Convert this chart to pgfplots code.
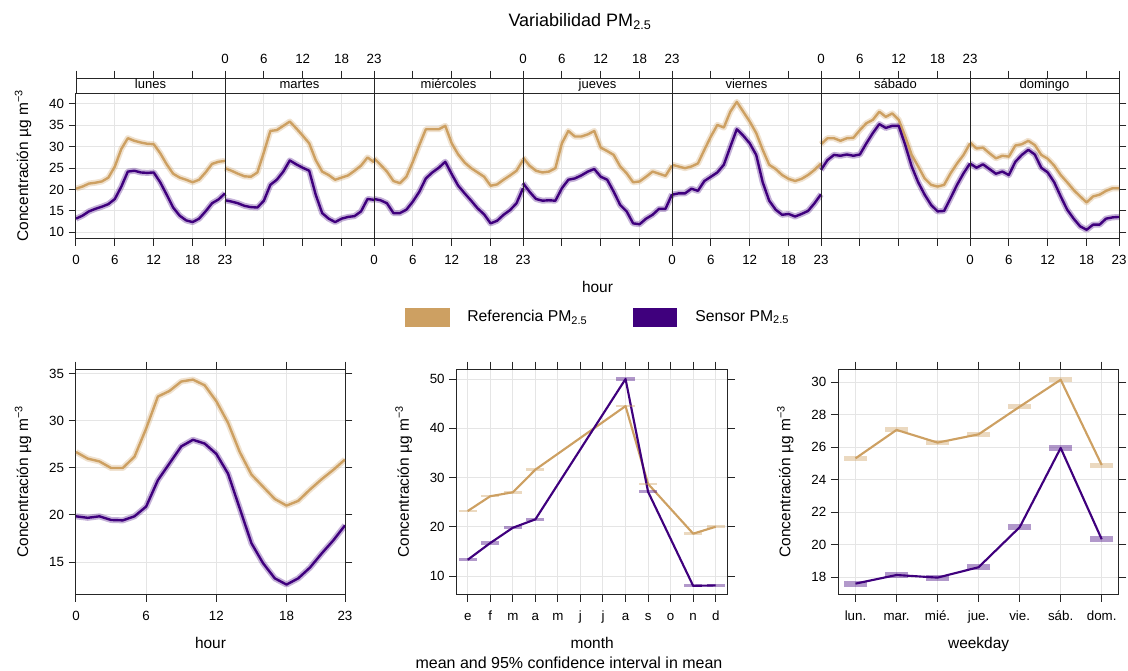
\documentclass[border=0pt]{standalone}
\usepackage{fontspec}
\setmainfont{Liberation Sans}
\usepackage{pgfplots}
\pgfplotsset{compat=1.18}
\usepackage{pgfplotstable}
\definecolor{refc}{RGB}{205,160,98}
\definecolor{senc}{RGB}{63,0,125}

% hourly profile by weekday, Referencia
\pgfplotstableread{
h lun mar mie jue vie sab dom
0 20.2 25.0 27.3 27.5 25.8 30.6 31.0
1 20.7 24.4 25.8 25.6 25.4 32.0 29.6
2 21.4 23.7 24.2 24.4 25.0 32.0 29.8
3 21.6 23.1 22.0 24.0 25.4 31.4 28.5
4 21.9 23.0 21.5 24.2 26.1 32.0 27.3
5 22.8 24.0 23.0 25.0 29.3 32.1 27.9
6 25.4 28.7 26.5 30.8 32.4 33.9 27.7
7 29.5 33.7 30.4 33.7 35.1 35.5 30.3
8 32.0 33.9 34.1 32.4 34.5 36.3 30.6
9 31.4 34.9 34.1 32.4 38.2 38.2 31.4
10 31.0 35.9 34.1 32.9 40.5 37.0 30.4
11 30.7 34.3 34.9 33.7 38.2 37.8 28.1
12 30.6 32.6 30.8 29.8 35.9 36.3 27.2
13 28.5 30.8 28.2 29.0 33.2 32.4 25.6
14 25.9 26.9 26.3 28.1 29.3 28.1 23.4
15 23.7 24.2 25.0 25.4 25.8 25.4 21.7
16 22.8 23.4 24.0 23.8 24.8 22.6 19.9
17 22.3 22.3 23.0 21.7 23.4 21.1 18.4
18 21.7 22.8 20.9 21.9 22.5 20.7 17.0
19 22.3 23.3 21.2 23.0 22.0 21.1 18.4
20 24.0 24.4 22.3 24.2 22.5 23.8 18.8
21 26.0 25.6 23.3 23.7 23.4 26.1 19.7
22 26.5 27.5 24.4 23.2 24.6 28.1 20.3
23 26.7 26.4 26.9 25.6 26.1 30.8 20.3
}\refday

% hourly profile by weekday, Sensor
\pgfplotstableread{
h lun mar mie jue vie sab dom
0 13.2 17.5 17.8 21.5 18.8 24.6 26.1
1 13.9 17.2 17.5 19.5 19.1 26.9 25.1
2 14.9 16.8 16.8 17.8 19.1 28.1 25.9
3 15.5 16.2 14.5 17.4 20.2 27.9 24.8
4 16.0 15.9 14.5 17.5 19.7 28.2 23.7
5 16.6 15.8 15.3 17.4 22.0 27.9 24.2
6 17.8 17.4 17.2 20.3 23.0 28.2 23.4
7 20.7 21.1 19.5 22.3 24.0 30.8 26.5
8 24.2 22.3 22.6 22.6 25.8 33.2 28.1
9 24.4 24.2 24.0 23.3 30.0 35.3 29.3
10 24.0 26.8 25.1 24.2 34.1 34.4 28.2
11 23.9 25.9 26.5 24.8 32.6 34.9 25.1
12 24.0 25.1 23.6 23.0 30.8 34.9 24.0
13 21.7 24.4 20.9 22.3 28.1 30.4 21.7
14 18.8 18.8 19.1 19.5 21.7 25.4 18.4
15 15.8 14.5 17.4 16.4 17.4 21.7 15.3
16 13.9 13.2 15.6 14.9 15.3 18.8 13.2
17 12.8 12.4 14.2 12.1 14.1 16.4 11.4
18 12.4 13.2 12.1 11.9 14.3 14.9 10.6
19 13.2 13.6 12.7 13.2 13.7 15.0 11.8
20 14.9 13.8 14.1 14.1 14.3 18.0 11.8
21 16.8 14.9 15.2 15.5 15.0 21.1 13.2
22 17.7 17.8 16.8 15.5 16.8 23.8 13.5
23 19.1 17.6 20.3 18.9 18.9 26.1 13.6
}\senday

% overall hourly profile
\pgfplotstableread{
h ref sen
0 26.7 19.86
1 26.0 19.70
2 25.7 19.86
3 25.0 19.47
4 25.0 19.43
5 26.2 19.86
6 29.2 20.90
7 32.6 23.70
8 33.2 25.50
9 34.2 27.30
10 34.4 28.00
11 33.8 27.60
12 32.1 26.50
13 29.8 24.40
14 26.7 20.70
15 24.3 17.00
16 23.0 14.86
17 21.7 13.26
18 21.0 12.60
19 21.5 13.26
20 22.7 14.40
21 23.8 15.90
22 24.8 17.30
23 25.9 18.90
}\hourtab

% monthly means
\pgfplotstableread{
m ref
1 23.2
2 26.2
3 27.0
4 31.6
8 44.5
9 28.7
11 18.6
12 20.0
}\refmonth
\pgfplotstableread{
m sen
1 13.3
2 16.7
3 19.8
4 21.5
8 50.0
9 27.1
11 8.0
12 8.1
}\senmonth

% weekday means
\pgfplotstableread{
d ref sen
1 25.32 17.61
2 27.07 18.14
3 26.29 17.98
4 26.80 18.62
5 28.50 21.08
6 30.16 25.96
7 24.91 20.34
}\wdtab

\pgfplotsset{
  every axis/.append style={
    scale only axis,
    axis line style={black!85, line width=0.75pt},
    tick style={black!85, line width=0.75pt},
    tick align=outside,
    major tick length=5.5pt,
    grid style={black!10, line width=0.75pt},
    tick label style={font=\fontsize{10}{11}\selectfont},
    xticklabel style={text height=7.5pt, text depth=0pt},
    label style={font=\fontsize{11.6}{13}\selectfont},
    /pgf/number format/assume math mode=true,
    ylabel shift=6.5pt,
    xlabel shift=5.5pt,
    xticklabel shift=3pt,
  },
  refband/.style={refc, line width=4.5pt, opacity=0.3, line join=round, no marks},
  senband/.style={senc, line width=4.5pt, opacity=0.3, line join=round, no marks},
  refline/.style={refc, line width=1.8pt, line join=round, no marks},
  senline/.style={senc, line width=1.8pt, line join=round, no marks},
}
\tikzset{strip/.style={font=\fontsize{9.75}{11}\selectfont, text height=7pt, text depth=2pt, inner sep=0pt}}

\newcommand{\dayplot}[2]{%
  \addplot[refband] table[x expr=\thisrow{h}+#1, y=#2] \refday;
  \addplot[senband] table[x expr=\thisrow{h}+#1, y=#2] \senday;
  \addplot[refline] table[x expr=\thisrow{h}+#1, y=#2] \refday;
  \addplot[senline] table[x expr=\thisrow{h}+#1, y=#2] \senday;
}

\newcommand{\ylab}{Concentración µg m\textsuperscript{−3}}

\begin{document}
\begin{tikzpicture}
\useasboundingbox (0,0) rectangle (846pt,-503.25pt);

% title
\node[anchor=base, font=\fontsize{13.5}{15}\selectfont] at (435pt,-20pt) {Variabilidad PM\textsubscript{2.5}};

% ---------- top: hour by weekday ----------
\begin{axis}[at={(57pt,-69.75pt)}, anchor=north west,
  width=782.25pt, height=109pt,
  xmin=0, xmax=161, ymin=8.6, ymax=42.57,
  xtick={0,6,12,18,23,29,35,41,46,52,58,64,69,75,81,87,92,98,104,110,115,121,127,133,138,144,150,156,161},
  xticklabels={0,6,12,18,23,,,,0,6,12,18,23,,,,0,6,12,18,23,,,,0,6,12,18,23},
  xtick pos=left,
  ytick={10,15,...,40},
  xmajorgrids, ymajorgrids,
  xlabel={hour}, ylabel={\ylab},
]
\dayplot{0}{lun}
\dayplot{23}{mar}
\dayplot{46}{mie}
\dayplot{69}{jue}
\dayplot{92}{vie}
\dayplot{115}{sab}
\dayplot{138}{dom}
\pgfplotsinvokeforeach{23,46,69,92,115,138}{
  \draw[black!85, line width=0.75pt] (axis cs:#1,8.6) -- (axis cs:#1,42.57);
}
\end{axis}

% strip with day names
\begin{axis}[at={(57pt,-58.5pt)}, anchor=north west,
  width=782.25pt, height=11.25pt,
  xmin=0, xmax=161, ymin=0, ymax=1,
  ytick=\empty,
  xtick={0,6,12,18,23,29,35,41,46,52,58,64,69,75,81,87,92,98,104,110,115,121,127,133,138,144,150,156,161},
  xticklabels={,,,,0,6,12,18,23,,,,0,6,12,18,23,,,,0,6,12,18,23,,,,},
  xtick pos=right, xticklabel pos=right,
  xticklabel shift=1.5pt,
  clip=false,
]
\pgfplotsinvokeforeach{23,46,69,92,115,138}{
  \draw[black!85, line width=0.75pt] (axis cs:#1,0) -- (axis cs:#1,1);
}
\node[strip] at (axis cs:11.5,0.5) {lunes};
\node[strip] at (axis cs:34.5,0.5) {martes};
\node[strip] at (axis cs:57.5,0.5) {miércoles};
\node[strip] at (axis cs:80.5,0.5) {jueves};
\node[strip] at (axis cs:103.5,0.5) {viernes};
\node[strip] at (axis cs:126.5,0.5) {sábado};
\node[strip] at (axis cs:149.5,0.5) {domingo};
\end{axis}

% legend
\fill[refc] (303.75pt,-231pt) rectangle (337.5pt,-245pt);
\node[anchor=west, font=\fontsize{11.8}{13}\selectfont] at (347pt,-238pt) {Referencia PM\textsubscript{2.5}};
\fill[senc] (474.5pt,-231pt) rectangle (508pt,-245pt);
\node[anchor=west, font=\fontsize{11.8}{13}\selectfont] at (518pt,-238pt) {Sensor PM\textsubscript{2.5}};

% ---------- bottom left: hour ----------
\begin{axis}[at={(57pt,-276.75pt)}, anchor=north west,
  width=201.75pt, height=169pt,
  xmin=0, xmax=23, ymin=11.56, ymax=35.53,
  xtick={0,6,12,18,23}, ytick={15,20,...,35},
  grid=major,
  xlabel={hour}, ylabel={\ylab},
]
\addplot[refband] table[x=h, y=ref] \hourtab;
\addplot[senband] table[x=h, y=sen] \hourtab;
\addplot[refline] table[x=h, y=ref] \hourtab;
\addplot[senline] table[x=h, y=sen] \hourtab;
\end{axis}

% ---------- bottom middle: month ----------
\begin{axis}[at={(342.5pt,-276.75pt)}, anchor=north west,
  width=203.25pt, height=169pt,
  xmin=0.51, xmax=12.53, ymin=6.28, ymax=52.03,
  xtick={1,...,12}, xticklabels={e,f,m,a,m,j,j,a,s,o,n,d},
  ytick={10,20,...,50},
  grid=major,
  xlabel={month}, ylabel={\ylab},
]
\addplot[only marks, mark=-, mark size=6.8pt, mark options={refc, opacity=0.4, line width=1.9pt}] table[x=m, y=ref] \refmonth;
\addplot[only marks, mark=-, mark size=6.8pt, mark options={senc, opacity=0.4, line width=2.4pt}] table[x=m, y=sen] \senmonth;
\addplot[refc, line width=1.6pt, line join=round, no marks] table[x=m, y=ref] \refmonth;
\addplot[senc, line width=1.6pt, line join=round, no marks] table[x=m, y=sen] \senmonth;
\end{axis}

% ---------- bottom right: weekday ----------
\begin{axis}[at={(628.7pt,-276.75pt)}, anchor=north west,
  width=210.5pt, height=169pt,
  xmin=0.58, xmax=7.42, ymin=16.95, ymax=30.82,
  xtick={1,...,7}, xticklabels={lun.,mar.,mié.,jue.,vie.,sáb.,dom.},
  ytick={18,20,...,30},
  grid=major,
  xlabel={weekday}, ylabel={\ylab},
]
\addplot[only marks, mark=-, mark size=8.75pt, mark options={refc, opacity=0.4, line width=3.75pt}] table[x=d, y=ref] \wdtab;
\addplot[only marks, mark=-, mark size=8.75pt, mark options={senc, opacity=0.4, line width=4.4pt}] table[x=d, y=sen] \wdtab;
\addplot[refc, line width=1.6pt, line join=round, no marks] table[x=d, y=ref] \wdtab;
\addplot[senc, line width=1.6pt, line join=round, no marks] table[x=d, y=sen] \wdtab;
\end{axis}

\node[anchor=base, font=\fontsize{12}{14}\selectfont] at (426.75pt,-501pt) {mean and 95\% confidence interval in mean};
\end{tikzpicture}
\end{document}
